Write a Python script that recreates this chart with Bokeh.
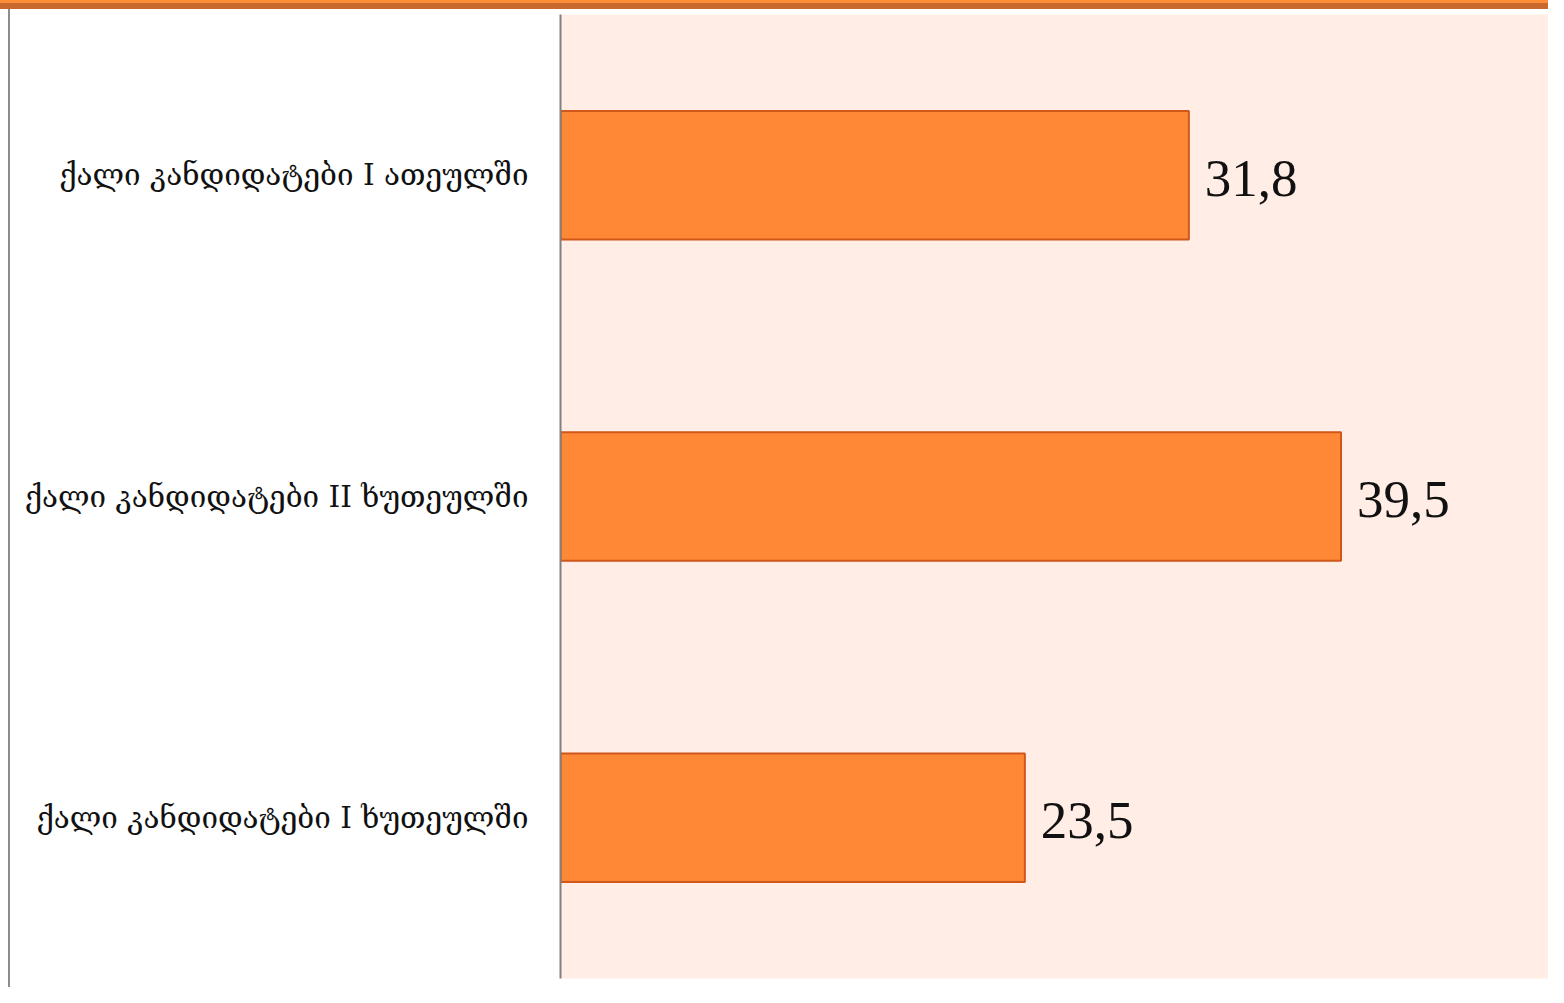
from bokeh.plotting import figure
from bokeh.models import FactorRange, Range1d, ColumnDataSource
from bokeh.core.properties import value
from bokeh.embed import file_html
from bokeh.resources import INLINE

categories = [
    "ქალი კანდიდატები I ათეულში",
    "ქალი კანდიდატები II ხუთეულში",
    "ქალი კანდიდატები I ხუთეულში",
]
values = [31.8, 39.5, 23.5]
labels = [f"{v:.1f}".replace(".", ",") for v in values]

src = ColumnDataSource(dict(cat=categories, val=values, lab=labels))

page_bg = ("linear-gradient(to bottom, #FF8C36 0px, #FF8C36 3px, #C86A2E 3px, #C86A2E 9px, rgba(0,0,0,0) 9px), "
           "linear-gradient(to right, rgba(0,0,0,0) 8px, #8C8C8C 8px, #8C8C8C 10px, rgba(0,0,0,0) 10px)")

p = figure(
    width=1548, height=987,
    y_range=FactorRange(factors=list(reversed(categories))),
    x_range=Range1d(0, 50),
    output_backend="svg", toolbar_location=None,
    min_border_left=560, min_border_right=0, min_border_top=14, min_border_bottom=9,
    styles={"background-color": "#FFFFFF", "background-image": page_bg},
)
p.background_fill_color = "#FFEDE6"
p.border_fill_color = None
p.outline_line_color = None
p.xgrid.visible = False
p.ygrid.visible = False
p.xaxis.visible = False

p.hbar(y="cat", right="val", left=0, height=0.4, source=src,
       fill_color="#FF8836", line_color="#D0571A", line_width=2)

p.text(x="val", y="cat", text="lab", source=src, x_offset=16, y_offset=3,
       text_font=value("Liberation Serif"), text_font_size="53px",
       text_align="left", text_baseline="middle", text_color="#111111")

ax = p.yaxis[0]
ax.axis_line_color = "#808080"
ax.axis_line_width = 2
ax.major_tick_line_color = None
ax.minor_tick_line_color = None
ax.major_label_standoff = 26
ax.major_label_text_font = "DejaVu Serif"
ax.major_label_text_font_size = "29.6px"
ax.major_label_text_color = "#111111"

open("out.html", "w").write(file_html(p, INLINE))
